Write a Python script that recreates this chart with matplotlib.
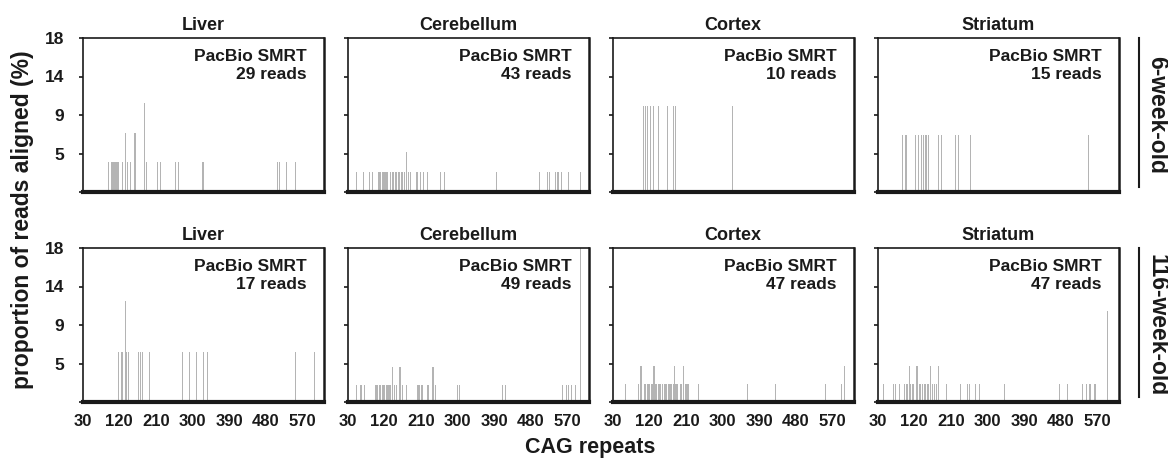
import matplotlib
matplotlib.use("Agg")
import matplotlib.pyplot as plt
import numpy as np

plt.rcParams['font.family'] = ['Liberation Sans', 'DejaVu Sans']
plt.rcParams['font.weight'] = 'bold'

tissues = ["Liver", "Cerebellum", "Cortex", "Striatum"]
ages = ["6-week-old", "116-week-old"]
x_ticks = [30, 120, 210, 300, 390, 480, 570]
y_ticks = [0, 4.5, 9, 13.5, 18]
y_tick_labels = ["", "5", "9", "14", "18"]

# total reads per panel (row 6-week, row 116-week)
reads_6w = [29, 43, 10, 15]
reads_116w = [17, 49, 47, 47]

# CAG repeat sizes observed and number of reads at each size
liver_6w_cag = [94, 102, 104, 106, 108, 111, 114, 116, 118, 129, 136, 140, 148, 159, 183, 188,
                214, 222, 259, 266, 326, 508, 514, 532, 554]
liver_6w_n = [1, 1, 1, 1, 1, 1, 1, 1, 1, 1, 2, 1, 1, 2, 3, 1, 1, 1, 1, 1, 1, 1, 1, 1, 1]

cereb_6w_cag = [51, 69, 85, 91, 105, 109, 112, 115, 118, 121, 124, 127, 136, 140, 144, 148, 151,
                155, 158, 162, 166, 169, 176, 179, 185, 199, 203, 209, 217, 226, 259, 269, 396,
                501, 521, 526, 540, 545, 549, 556, 572, 603]
cereb_6w_n = [1, 1, 1, 1, 1, 1, 1, 1, 1, 1, 1, 1, 1, 1, 1, 1, 1, 1, 1, 1, 1, 1, 2, 1, 1, 1, 1,
              1, 1, 1, 1, 1, 1, 1, 1, 1, 1, 1, 1, 1, 1, 1]

cortex_6w_cag = [106, 111, 117, 124, 131, 144, 165, 180, 184, 325]
cortex_6w_n = [1, 1, 1, 1, 1, 1, 1, 1, 1, 1]

striat_6w_cag = [91, 100, 123, 131, 139, 143, 147, 151, 156, 179, 188, 222, 230, 259, 549]
striat_6w_n = [1, 1, 1, 1, 1, 1, 1, 1, 1, 1, 1, 1, 1, 1, 1]

liver_116w_cag = [119, 127, 136, 139, 144, 167, 173, 178, 195, 276, 292, 311, 328, 336, 554, 601]
liver_116w_n = [1, 1, 2, 1, 1, 1, 1, 1, 1, 1, 1, 1, 1, 1, 1, 1]

cereb_116w_cag = [51, 61, 65, 72, 100, 104, 109, 111, 115, 118, 122, 127, 132, 136, 141, 145, 151,
                  159, 166, 176, 201, 205, 208, 213, 226, 230, 240, 247, 300, 304, 410, 419, 558,
                  568, 573, 581, 590, 603]
cereb_116w_n = [1, 1, 1, 1, 1, 1, 1, 1, 1, 1, 1, 1, 1, 1, 2, 1, 1, 2, 1, 1, 1, 1, 1, 1, 1, 1, 2,
                1, 1, 1, 1, 1, 1, 1, 1, 1, 1, 9]

cortex_116w_cag = [63, 95, 100, 102, 109, 112, 115, 118, 122, 125, 127, 129, 132, 136, 139, 142,
                   145, 149, 152, 157, 160, 163, 167, 170, 173, 176, 180, 183, 186, 190, 196, 200,
                   205, 210, 213, 217, 242, 361, 430, 553, 592, 599]
cortex_116w_n = [1, 1, 2, 1, 1, 1, 1, 1, 1, 1, 1, 1, 2, 1, 1, 1, 1, 1, 1, 1, 1, 1, 1, 1, 1, 1, 1,
                 2, 1, 1, 1, 1, 2, 1, 1, 1, 1, 1, 1, 1, 1, 2]

striat_116w_cag = [45, 69, 74, 84, 97, 101, 104, 108, 112, 115, 118, 127, 133, 136, 141, 145, 149,
                   153, 156, 160, 164, 171, 174, 179, 199, 235, 251, 255, 271, 280, 341, 476, 497,
                   534, 544, 552, 563, 566, 596]
striat_116w_n = [1, 1, 1, 1, 1, 1, 1, 2, 1, 1, 1, 2, 1, 1, 1, 1, 1, 1, 1, 2, 1, 1, 1, 2, 1, 1, 1,
                 1, 1, 1, 1, 1, 1, 1, 1, 1, 1, 1, 5]

panels = [
    [(liver_6w_cag, liver_6w_n), (cereb_6w_cag, cereb_6w_n),
     (cortex_6w_cag, cortex_6w_n), (striat_6w_cag, striat_6w_n)],
    [(liver_116w_cag, liver_116w_n), (cereb_116w_cag, cereb_116w_n),
     (cortex_116w_cag, cortex_116w_n), (striat_116w_cag, striat_116w_n)],
]
reads = [reads_6w, reads_116w]

W, H = 1168, 463
fig = plt.figure(figsize=(W / 100, H / 100), dpi=100)
txt = '#1a1a1a'

lefts = [82.5, 347.5, 612.5, 877.5]
pw = 241
tops = [38, 248]
ph = 154

for r in range(2):
    for c in range(4):
        ax = fig.add_axes([lefts[c] / W, 1 - (tops[r] + ph) / H, pw / W, ph / H])
        cag, n = panels[r][c]
        pct = np.array(n) / reads[r][c] * 100
        ax.bar(cag, pct, width=2.6, color='#b4b4b4', linewidth=0, zorder=2)
        ax.set_xlim(30, 622)
        ax.set_ylim(0, 18)
        ax.set_yticks(y_ticks)
        if c == 0:
            ax.set_yticklabels(y_tick_labels, fontsize=12.5, fontweight='bold', color=txt)
        else:
            ax.set_yticklabels([])
        ax.set_xticks(x_ticks)
        if r == 1:
            ax.set_xticklabels([str(t) for t in x_ticks], fontsize=12, fontweight='bold', color=txt)
        else:
            ax.set_xticklabels([])
        ax.tick_params(axis='x', length=0, pad=9)
        ax.tick_params(axis='y', length=3, width=1.2, pad=10, colors=txt)
        for s in ['top', 'left']:
            ax.spines[s].set_linewidth(1.2)
        ax.spines['right'].set_linewidth(1.8)
        ax.spines['bottom'].set_linewidth(3.0)
        for s in ax.spines.values():
            s.set_color('#1a1a1a')
        ax.set_title(tissues[c], fontsize=13, fontweight='bold', color=txt, pad=6)
        ax.text(0.93, 0.93, "PacBio SMRT\n%d reads" % reads[r][c], transform=ax.transAxes,
                ha='right', va='top', fontsize=12.5, fontweight='bold', color=txt,
                linespacing=1.25)

    # row label with vertical bar
    y0 = 1 - (tops[r] + ph) / H
    y1 = 1 - tops[r] / H
    fig.add_artist(plt.Line2D([1139 / W, 1139 / W], [y0 + 0.01, y1], color='#1a1a1a', lw=1.5))
    fig.text(1157 / W, (y0 + y1) / 2, ages[r], rotation=270, ha='center', va='center',
             fontsize=16.5, fontweight='bold', color=txt)

fig.text(23 / W, 1 - 220 / H, "proportion of reads aligned (%)", rotation=90, ha='center',
         va='center', fontsize=16.5, fontweight='bold', color=txt)
fig.text(590 / W, 1 - 448 / H, "CAG repeats", ha='center', va='center', fontsize=15.5,
         fontweight='bold', color=txt)

fig.savefig("out.png", dpi=100)
